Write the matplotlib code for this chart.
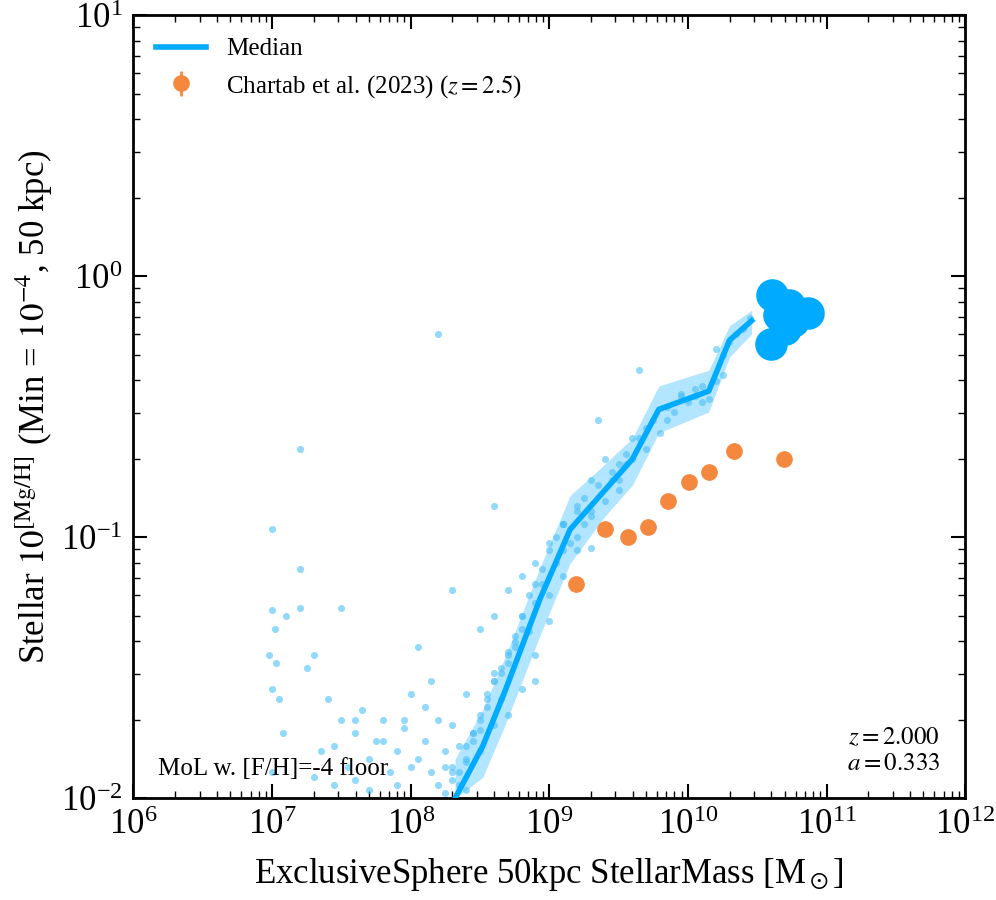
import numpy as np
import matplotlib
matplotlib.use("Agg")
import matplotlib.pyplot as plt

plt.rcParams['font.family'] = ['Liberation Serif', 'DejaVu Serif']
plt.rcParams['mathtext.fontset'] = 'stix'

# median curve (log10 values)
med_logm = [8.32, 8.52, 8.68, 8.93, 9.15, 9.40, 9.60, 9.79, 10.15, 10.30, 10.46]
med_logz = [-2.0, -1.80, -1.59, -1.24, -0.97, -0.82, -0.70, -0.51, -0.44, -0.245, -0.17]
band_lo = [-2.0, -1.92, -1.72, -1.38, -1.10, -0.92, -0.80, -0.60, -0.52, -0.31, -0.22]
band_hi = [-1.85, -1.66, -1.46, -1.12, -0.84, -0.72, -0.62, -0.42, -0.36, -0.19, -0.13]

# Chartab et al. (2023)
obs_logm = [9.19, 9.40, 9.57, 9.71, 9.86, 10.01, 10.15, 10.33, 10.69]
obs_logz = [-1.18, -0.97, -1.00, -0.96, -0.86, -0.79, -0.75, -0.67, -0.70]
obs_err = [0.02, 0.02, 0.02, 0.02, 0.02, 0.02, 0.02, 0.03, 0.02]

# massive galaxies
big_logm = [10.61, 10.73, 10.87, 10.60, 10.70, 10.66, 10.76]
big_logz = [-0.07, -0.11, -0.14, -0.26, -0.20, -0.15, -0.17]

# individual galaxies
pts_logm = [7.0, 7.0, 7.02, 6.98, 7.0, 7.05, 7.08, 7.0, 7.03, 7.2, 7.2, 7.2, 7.25, 7.35,
            7.4, 7.45, 7.5, 7.55, 7.6, 7.65, 7.7, 7.75, 7.8, 7.85, 7.9, 7.95, 8.0, 8.0,
            7.3, 7.45, 7.6, 7.7, 7.9, 8.05, 8.1, 8.15, 8.2, 8.25, 8.3, 8.35, 8.4, 8.45,
            8.1, 8.2, 8.25, 8.3, 8.35, 8.4, 8.45, 8.5, 8.55, 8.6, 8.65, 8.7, 8.75, 8.8,
            8.4, 8.5, 8.55, 8.6, 8.65, 8.7, 8.75, 8.8, 8.85, 8.9, 8.95, 9.0, 9.05, 9.1,
            8.6, 8.7, 8.8, 8.9, 9.0, 9.1, 9.2, 9.25, 9.3, 9.35, 9.4, 9.45, 9.5, 9.55,
            9.2, 9.3, 9.4, 9.5, 9.6, 9.65, 9.7, 9.75, 9.8, 9.85, 9.9, 9.95, 10.0, 10.05,
            10.1, 10.15, 10.2, 10.25, 10.3, 10.35, 10.4, 10.45, 8.2, 7.95, 7.5, 8.05,
            7.1, 7.3, 7.6, 7.8, 8.15, 8.3, 8.5, 8.6, 9.1, 9.35, 9.65, 10.1, 10.2, 8.9,
            8.3, 8.35, 8.4, 8.45, 8.5, 8.55, 8.6, 8.65, 8.7, 8.75, 8.8, 8.85, 8.9, 8.95,
            9.0, 9.05, 9.1, 9.15, 9.2, 9.25, 9.3, 9.45, 9.55, 9.7, 9.85, 9.95, 10.05, 10.25,
            8.25, 8.3, 8.4, 8.5, 8.6, 8.7, 8.8, 8.9, 9.0, 9.1, 9.2, 9.3, 9.5, 9.6]
pts_logz = [-0.97, -1.28, -1.35, -1.45, -1.58, -1.62, -1.75, -1.90, -1.48, -0.66, -1.12, -1.27, -1.50, -1.82,
            -1.62, -1.80, -1.70, -1.88, -1.75, -1.66, -1.85, -1.78, -1.70, -1.90, -1.82, -1.73, -1.88, -1.60,
            -1.92, -1.95, -1.93, -1.97, -1.95, -1.85, -1.78, -1.90, -1.95, -1.88, -1.93, -1.80, -1.97, -1.75,
            -1.65, -1.70, -1.82, -1.72, -1.90, -1.85, -1.78, -1.68, -1.60, -1.55, -1.50, -1.45, -1.40, -1.35,
            -1.60, -1.74, -1.65, -1.52, -1.62, -1.48, -1.42, -1.30, -1.36, -1.25, -1.18, -1.22, -1.10, -1.05,
            -1.30, -1.20, -1.15, -1.10, -1.02, -0.95, -0.90, -0.85, -0.92, -0.80, -0.86, -0.75, -0.82, -0.72,
            -1.00, -1.04, -0.70, -0.78, -0.70, -0.62, -0.66, -0.55, -0.60, -0.50, -0.52, -0.46, -0.48, -0.43,
            -0.42, -0.47, -0.40, -0.38, -0.25, -0.22, -0.20, -0.16, -0.22, -1.70, -1.27, -1.42,
            -1.30, -1.45, -1.70, -1.78, -1.55, -1.20, -1.35, -0.88, -0.95, -0.55, -0.36, -0.48, -0.28, -1.55,
            -1.88, -1.95, -1.80, -1.75, -1.70, -1.62, -1.55, -1.52, -1.44, -1.38, -1.30, -1.22, -1.18, -1.12,
            -1.05, -1.00, -0.95, -1.02, -0.88, -0.95, -0.78, -0.78, -0.68, -0.58, -0.55, -0.45, -0.46, -0.30,
            -1.98, -1.90, -1.86, -1.82, -1.72, -1.68, -1.58, -1.45, -1.32, -1.15, -1.05, -0.90, -0.72, -0.62]

fig = plt.figure(figsize=(9.96, 9.0), dpi=100)
ax = fig.add_axes([0.134, 0.113, 0.835, 0.87])
blue = '#00aaff'
ax.scatter(10**np.array(pts_logm), 10**np.array(pts_logz), s=26, color='#4cc0f5', alpha=0.6, lw=0, zorder=2)
ax.fill_between(10**np.array(med_logm), 10**np.array(band_lo), 10**np.array(band_hi),
                color='#00aaff', alpha=0.3, lw=0, zorder=1)
ax.plot(10**np.array(med_logm), 10**np.array(med_logz), color=blue, lw=4, label='Median', zorder=3)
ax.scatter(10**np.array(big_logm), 10**np.array(big_logz), s=550, color=blue, lw=0, zorder=4)
oz = np.array(obs_logz)
oe = np.array(obs_err)
ax.errorbar(10**np.array(obs_logm), 10**oz, yerr=[10**oz - 10**(oz - oe), 10**(oz + oe) - 10**oz],
            fmt='o', ms=11, color='#f5883f', ecolor='#f5883f', elinewidth=2,
            label='Chartab et al. (2023) ($z = 2.5$)', zorder=5)

ax.set_xscale('log')
ax.set_yscale('log')
ax.set_xlim(1e6, 1e12)
ax.set_ylim(1e-2, 10)
ax.tick_params(which='both', direction='in', top=True, right=True, labelsize=25, pad=8)
ax.tick_params(which='major', length=10, width=1.5)
ax.tick_params(which='minor', length=5, width=1)
for s in ax.spines.values():
    s.set_linewidth(2)
ax.set_xlabel(r'ExclusiveSphere 50kpc StellarMass [M$_\odot$]', fontsize=25, labelpad=10)
ax.set_ylabel(r'Stellar $10^{\rm [Mg/H]}$ (Min = $10^{-4}$, 50 kpc)', fontsize=25)
ax.legend(loc='upper left', fontsize=18, frameon=False)
ax.text(0.03, 0.03, 'MoL w. [F/H]=-4 floor', transform=ax.transAxes, fontsize=18)
ax.text(0.97, 0.03, '$z = 2.000$\n$a = 0.333$', transform=ax.transAxes, fontsize=18,
        ha='right', va='bottom', multialignment='right')
fig.savefig('out.png', dpi=100)
